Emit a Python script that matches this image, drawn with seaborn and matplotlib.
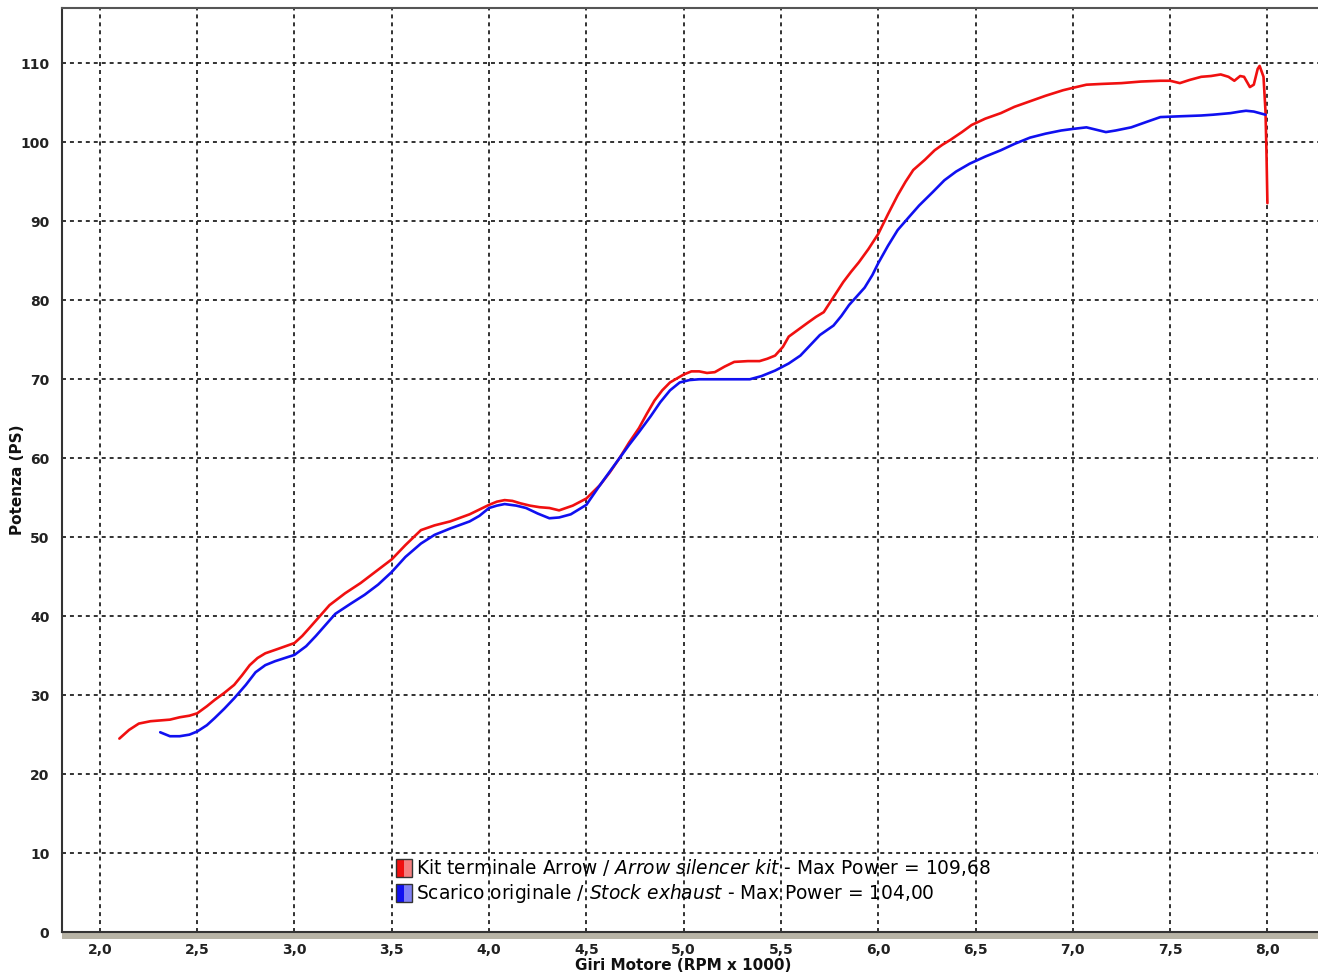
import numpy as np
import pandas as pd
import matplotlib
matplotlib.use("Agg")
import matplotlib.pyplot as plt
import seaborn as sns
from matplotlib.legend_handler import HandlerBase
from matplotlib.patches import Rectangle

# ---------------- data ----------------
rpm_arrow = [2.10, 2.15, 2.20, 2.26, 2.31, 2.36, 2.41, 2.46, 2.50, 2.55, 2.59, 2.64, 2.69, 2.73,
             2.77, 2.81, 2.85, 2.92, 3.00, 3.04, 3.08, 3.13, 3.18, 3.26, 3.34, 3.42, 3.50, 3.57,
             3.65, 3.72, 3.80, 3.90, 4.00, 4.04, 4.08, 4.12, 4.16, 4.21, 4.26, 4.31, 4.36, 4.43,
             4.50, 4.57, 4.62, 4.67, 4.72, 4.77, 4.81, 4.85, 4.89, 4.93, 5.00, 5.04, 5.08, 5.12,
             5.16, 5.21, 5.26, 5.33, 5.39, 5.43, 5.47, 5.51, 5.54, 5.59, 5.64, 5.68, 5.72, 5.77,
             5.82, 5.86, 5.90, 5.95, 6.00, 6.05, 6.10, 6.14, 6.18, 6.24, 6.29, 6.33, 6.37, 6.43,
             6.48, 6.55, 6.63, 6.70, 6.78, 6.86, 6.95, 7.00, 7.07, 7.15, 7.25, 7.35, 7.45, 7.50,
             7.55, 7.60, 7.66, 7.71, 7.76, 7.80, 7.83, 7.86, 7.88, 7.91, 7.93, 7.95, 7.96, 7.98,
             7.99, 7.995, 8.00]
ps_arrow = [24.5, 25.6, 26.4, 26.7, 26.8, 26.9, 27.2, 27.4, 27.7, 28.6, 29.4, 30.3, 31.3, 32.5,
            33.8, 34.7, 35.3, 35.9, 36.6, 37.5, 38.6, 40.0, 41.4, 42.9, 44.2, 45.7, 47.2, 49.0,
            50.9, 51.5, 52.0, 52.9, 54.1, 54.5, 54.7, 54.6, 54.3, 54.0, 53.8, 53.7, 53.4, 54.0,
            54.9, 56.6, 58.2, 60.0, 62.0, 63.8, 65.6, 67.3, 68.6, 69.6, 70.6, 71.0, 71.0, 70.8,
            70.9, 71.6, 72.2, 72.3, 72.3, 72.6, 73.0, 74.1, 75.4, 76.3, 77.2, 77.9, 78.5, 80.4,
            82.3, 83.6, 84.8, 86.5, 88.4, 90.9, 93.3, 95.0, 96.5, 97.8, 99.0, 99.7, 100.3, 101.3,
            102.2, 103.0, 103.7, 104.5, 105.2, 105.9, 106.6, 106.9, 107.3, 107.4, 107.5, 107.7, 107.8, 107.8,
            107.5, 107.9, 108.3, 108.4, 108.6, 108.3, 107.8, 108.4, 108.3, 107.0, 107.3, 109.3, 109.68, 108.3,
            104.0, 99.0, 92.3]

rpm_stock = [2.31, 2.36, 2.41, 2.46, 2.50, 2.55, 2.59, 2.64, 2.69, 2.75, 2.80, 2.85, 2.90, 2.95,
             3.00, 3.06, 3.11, 3.16, 3.21, 3.29, 3.36, 3.43, 3.50, 3.57, 3.65, 3.72, 3.80, 3.90,
             3.95, 4.00, 4.04, 4.08, 4.14, 4.19, 4.25, 4.31, 4.36, 4.42, 4.50, 4.57, 4.62, 4.67,
             4.72, 4.77, 4.83, 4.88, 4.93, 4.98, 5.03, 5.08, 5.20, 5.34, 5.40, 5.47, 5.54, 5.60,
             5.65, 5.70, 5.77, 5.81, 5.85, 5.93, 5.97, 6.00, 6.05, 6.10, 6.16, 6.21, 6.28, 6.34,
             6.40, 6.47, 6.55, 6.63, 6.70, 6.78, 6.86, 6.94, 7.00, 7.07, 7.12, 7.17, 7.22, 7.30,
             7.38, 7.45, 7.55, 7.66, 7.72, 7.81, 7.86, 7.89, 7.93, 7.96, 7.99]
ps_stock = [25.3, 24.8, 24.8, 25.0, 25.4, 26.2, 27.1, 28.3, 29.6, 31.3, 32.9, 33.8, 34.3, 34.7,
            35.1, 36.2, 37.5, 38.9, 40.3, 41.6, 42.7, 44.0, 45.6, 47.5, 49.2, 50.3, 51.1, 52.0,
            52.7, 53.7, 54.0, 54.2, 54.0, 53.7, 53.0, 52.4, 52.5, 52.9, 54.1, 56.6, 58.3, 60.0,
            61.7, 63.3, 65.3, 67.1, 68.6, 69.6, 69.9, 70.0, 70.0, 70.0, 70.4, 71.1, 72.0, 73.0,
            74.3, 75.6, 76.8, 78.0, 79.4, 81.6, 83.2, 84.7, 86.9, 88.9, 90.6, 92.0, 93.7, 95.2,
            96.3, 97.3, 98.2, 99.0, 99.8, 100.6, 101.1, 101.5, 101.7, 101.9, 101.6, 101.3, 101.5, 101.9,
            102.6, 103.2, 103.3, 103.4, 103.5, 103.7, 103.9, 104.0, 103.9, 103.7, 103.5]

x_ticks = [2.0, 2.5, 3.0, 3.5, 4.0, 4.5, 5.0, 5.5, 6.0, 6.5, 7.0, 7.5, 8.0]
x_tick_labels = ["2,0", "2,5", "3,0", "3,5", "4,0", "4,5", "5,0", "5,5", "6,0", "6,5", "7,0", "7,5", "8,0"]
y_ticks = [0, 10, 20, 30, 40, 50, 60, 70, 80, 90, 100, 110]

series_names = ["arrow", "stock"]
legend_labels = [
    r"Kit terminale Arrow / $\mathit{Arrow\ silencer\ kit}$ - Max Power = 109,68",
    r"Scarico originale / $\mathit{Stock\ exhaust}$ - Max Power = 104,00",
]
x_title = "Giri Motore (RPM x 1000)"
y_title = "Potenza (PS)"

# ---------------- style ----------------
sns.set_style("white")
plt.rcParams["font.family"] = ["DejaVu Sans"]
plt.rcParams["mathtext.fontset"] = "custom"
plt.rcParams["mathtext.rm"] = "DejaVu Sans"
plt.rcParams["mathtext.it"] = "DejaVu Sans:italic"

df = pd.concat([
    pd.DataFrame({"rpm": rpm_arrow, "ps": ps_arrow, "series": series_names[0]}),
    pd.DataFrame({"rpm": rpm_stock, "ps": ps_stock, "series": series_names[1]}),
])

fig = plt.figure(figsize=(13.18, 9.76), dpi=100)
ax = fig.add_axes([0.047, 0.045, 0.953, 0.9467])

palette = {"arrow": "#f01010", "stock": "#1010f0"}
sns.lineplot(data=df, x="rpm", y="ps", hue="series", palette=palette, sort=False,
             estimator=None, linewidth=1.9, ax=ax, legend=False)

ax.set_xlim(1.805, 8.26)
ax.set_ylim(0, 117)

ax.set_xticks(x_ticks)
ax.set_xticklabels(x_tick_labels)
ax.set_xticks(np.arange(1.9, 8.25, 0.1), minor=True)
ax.set_yticks(y_ticks)
ax.set_yticklabels([str(v) for v in y_ticks])
ax.set_yticks(np.arange(0, 117, 2), minor=True)

for lab in ax.get_xticklabels() + ax.get_yticklabels():
    lab.set_fontweight("bold")
    lab.set_fontsize(10)
    lab.set_color("#222222")

ax.tick_params(axis="x", which="both", direction="out", length=6, width=1, color="#222222", pad=2)
ax.tick_params(axis="y", which="major", direction="out", length=5, width=1, color="#222222", pad=4)
ax.tick_params(axis="y", which="minor", direction="out", length=3, width=1, color="#222222")

ax.grid(False)
for xv in x_ticks:
    ax.axvline(xv, color="#222222", linestyle=(0, (2.2, 2.2)), linewidth=1.3, zorder=0)
for yv in y_ticks[1:]:
    ax.axhline(yv, color="#222222", linestyle=(0, (2.2, 2.2)), linewidth=1.3, zorder=0)

ax.spines["right"].set_visible(False)
ax.spines["top"].set_color("#555555")
ax.spines["top"].set_linewidth(1.5)
ax.spines["left"].set_color("#333333")
ax.spines["left"].set_linewidth(1.5)
ax.spines["bottom"].set_color("#333333")
ax.spines["bottom"].set_linewidth(1.5)

# grey band below x axis
band = Rectangle((0, -0.0075), 1, 0.0075, transform=ax.transAxes, clip_on=False,
                 facecolor="#b8b4a6", edgecolor="none", zorder=1)
ax.add_patch(band)

ax.set_xlabel("")
ax.set_ylabel("")
fig.text(683 / 1318, 1 - 966 / 976, x_title, fontsize=11, fontweight="bold",
         ha="center", va="center", color="#111111")
fig.text(18 / 1318, 1 - 480 / 976, y_title, fontsize=11, fontweight="bold",
         ha="center", va="center", rotation=90, color="#111111")


# ---------------- legend ----------------
class TwoTone:
    def __init__(self, c1, c2):
        self.c1 = c1
        self.c2 = c2


class TwoToneHandler(HandlerBase):
    def create_artists(self, legend, orig_handle, xdescent, ydescent, width, height, fontsize, trans):
        r1 = Rectangle((-xdescent, -ydescent), width / 2, height, facecolor=orig_handle.c1,
                       edgecolor="none", transform=trans)
        r2 = Rectangle((-xdescent + width / 2, -ydescent), width / 2, height, facecolor=orig_handle.c2,
                       edgecolor="none", transform=trans)
        border = Rectangle((-xdescent, -ydescent), width, height, fill=False,
                           edgecolor="#333333", linewidth=1.0, transform=trans)
        return [r1, r2, border]


handles = [TwoTone("#f01010", "#f48080"), TwoTone("#1010f0", "#8080f4")]
leg = fig.legend(handles, legend_labels, handler_map={TwoTone: TwoToneHandler()},
                 loc="upper left", bbox_to_anchor=(396 / 1318, 1 - 857 / 976),
                 frameon=False, fontsize=13.4, handlelength=0.85, handleheight=1.1,
                 handletextpad=0.25, labelspacing=0.22, borderpad=0, borderaxespad=0)
for t in leg.get_texts():
    t.set_color("#000000")

fig.savefig("out.png", dpi=100)
